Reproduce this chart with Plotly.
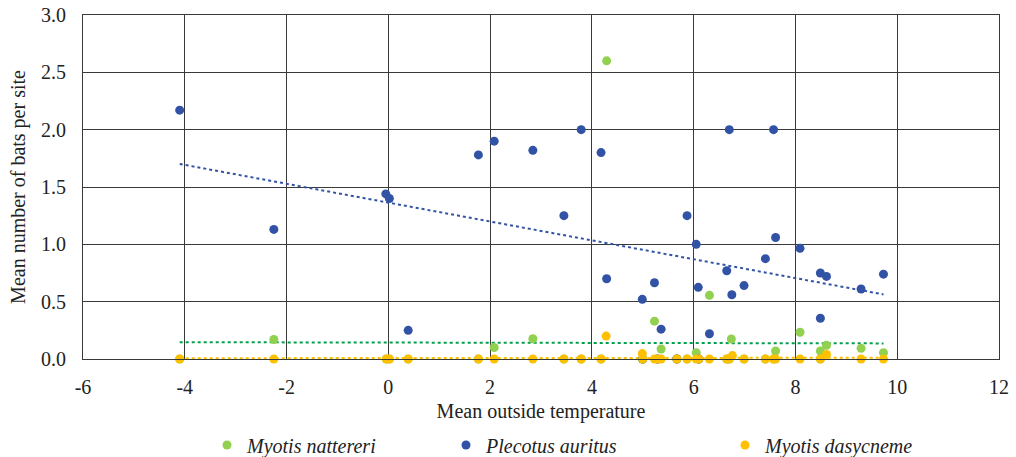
import numpy as np
import plotly.graph_objects as go

# ---- data ----
nattereri_x = [-2.25, 2.08, 2.84, 4.29, 5.23, 5.36, 6.05, 6.31, 6.74, 7.61, 8.09, 8.49, 8.61, 9.29, 9.73,
               -4.10, -0.04, 0.02, 0.39, 1.77, 3.45, 3.79, 4.18, 4.99, 5.00, 5.29, 5.67, 5.87, 6.10,
               6.65, 6.70, 6.99, 7.41, 7.57, 8.49]
nattereri_y = [0.17, 0.10, 0.177, 2.60, 0.33, 0.087, 0.055, 0.555, 0.174, 0.07, 0.233, 0.07, 0.12, 0.093, 0.055,
               0, 0, 0, 0, 0, 0, 0, 0, 0, 0, 0, 0, 0, 0,
               0, 0, 0, 0, 0, 0]

auritus_x = [-4.10, -2.25, -0.05, 0.02, 0.39, 1.77, 2.08, 2.84, 3.45, 3.79, 4.18, 4.29, 4.99, 5.23, 5.36,
             5.87, 6.05, 6.09, 6.31, 6.65, 6.70, 6.75, 6.99, 7.41, 7.57, 7.61, 8.09, 8.49, 8.49, 8.61,
             9.29, 9.73, 5.00, 5.29, 5.67, 6.10]
auritus_y = [2.17, 1.13, 1.44, 1.40, 0.25, 1.78, 1.90, 1.82, 1.25, 2.00, 1.80, 0.70, 0.52, 0.665, 0.26,
             1.25, 1.00, 0.625, 0.22, 0.77, 2.00, 0.56, 0.64, 0.875, 2.00, 1.06, 0.965, 0.75, 0.355, 0.72,
             0.61, 0.74, 0, 0, 0, 0]

dasycneme_x = [-4.10, -2.25, -0.04, 0.02, 0.39, 1.77, 2.08, 2.84, 3.45, 3.79, 4.18, 4.28, 4.99, 5.00,
               5.23, 5.29, 5.36, 5.67, 5.87, 6.05, 6.10, 6.31, 6.65, 6.70, 6.76, 6.99, 7.41, 7.57,
               7.61, 8.09, 8.49, 8.61, 9.29, 9.73]
dasycneme_y = [0, 0, 0, 0, 0, 0, 0, 0, 0, 0, 0, 0.20, 0.047, 0,
               0, 0, 0, 0, 0, 0, 0, 0, 0, 0, 0.03, 0, 0, 0,
               0, 0, 0, 0.04, 0, 0]

x_ticks = [-6, -4, -2, 0, 2, 4, 6, 8, 10, 12]
y_ticks = [0.0, 0.5, 1.0, 1.5, 2.0, 2.5, 3.0]

series = [
    ("Myotis nattereri", nattereri_x, nattereri_y, "#92D050", "#00A04A", "legend"),
    ("Plecotus auritus", auritus_x, auritus_y, "#3253A5", "#3253A5", "legend2"),
    ("Myotis dasycneme", dasycneme_x, dasycneme_y, "#FFC000", "#FFC000", "legend3"),
]

FONT = "Liberation Serif"
TXT = "#222222"
GRID = "#3a3a3a"
fig = go.Figure()

# trendlines (linear fits of each series)
for name, xs, ys, col, tcol, lg in series:
    xa = np.array(xs, float)
    ya = np.array(ys, float)
    k, b = np.polyfit(xa, ya, 1)
    xr = np.array([xa.min(), xa.max()])
    fig.add_trace(go.Scatter(x=xr, y=k * xr + b, mode="lines",
                             line=dict(color=tcol, width=2, dash="dot"),
                             showlegend=False, hoverinfo="skip", cliponaxis=False))

for name, xs, ys, col, tcol, lg in series:
    fig.add_trace(go.Scatter(x=xs, y=ys, mode="markers", name=name,
                             marker=dict(color=col, size=9, line=dict(width=0)),
                             legend=lg, cliponaxis=False))

W, H = 1016, 457
L, R, T, B = 83, 17, 15, 98
pw = W - L - R


def lx(px):
    return (px - L) / pw


legend_common = dict(orientation="h", yanchor="middle", y=-0.25, xanchor="left",
                     font=dict(family=FONT, size=20, color=TXT, style="italic"),
                     bgcolor="rgba(0,0,0,0)", borderwidth=0)

axis_common = dict(automargin=False, showgrid=True, gridcolor=GRID, gridwidth=1,
                   zeroline=True, zerolinecolor=GRID, zerolinewidth=1,
                   showline=True, mirror=True, linecolor=GRID, linewidth=1,
                   ticks="", ticklabeloverflow="allow",
                   tickfont=dict(family=FONT, size=20, color=TXT))

fig.update_layout(
    width=W, height=H,
    margin=dict(l=L, r=R, t=T, b=B, autoexpand=False),
    paper_bgcolor="white", plot_bgcolor="white",
    font=dict(family=FONT, size=20, color=TXT),
    xaxis=dict(range=[-6, 12], tickvals=x_ticks, ticktext=[str(v) for v in x_ticks],
               ticklabelstandoff=10,
               title=dict(text="Mean outside temperature", standoff=6,
                          font=dict(family=FONT, size=20, color=TXT)),
               **axis_common),
    yaxis=dict(range=[0, 3.0], tickvals=y_ticks, ticktext=[f"{v:.1f}" for v in y_ticks],
               ticklabelstandoff=12,
               title=dict(text="Mean number of bats per site", standoff=10,
                          font=dict(family=FONT, size=20, color=TXT)),
               **axis_common),
    legend=dict(x=lx(207), **legend_common),
    legend2=dict(x=lx(446), **legend_common),
    legend3=dict(x=lx(725), **legend_common),
)

# remove the default 8px page margin so the figure fills the 1016x457 window
fig.write_html("out.html",
               config={"displayModeBar": False},
               post_script="document.body.style.margin='0';document.body.style.overflow='hidden';")
